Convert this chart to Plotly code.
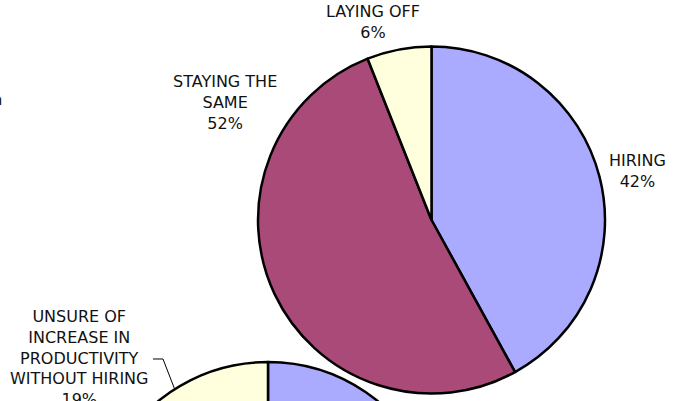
import plotly.graph_objects as go

# Chart data.
labels_now = ['HIRING', 'STAYING THE<br>SAME', 'LAYING OFF']
values_now = [42, 52, 6]

labels_next = ['HIRING', 'NOT HIRING', 'UNSURE OF<br>INCREASE IN<br>PRODUCTIVITY<br>WITHOUT HIRING']
values_next = [38, 43, 19]

colors = ['#AAAAFF', '#AA4A78', '#FFFFDD']

# Canvas size (taller than the window, the second pie runs off the bottom).
W, H = 677, 720


def px(x, y):
    '''Convert pixel coordinates (from top-left) to paper coordinates.'''
    return x / W, (H - y) / H


def pie_domain(cx, cy, r):
    '''Domain for a pie centred at (cx, cy) px with radius r px.'''
    return dict(
        x=[(cx - r) / W, (cx + r) / W],
        y=[(H - cy - r) / H, (H - cy + r) / H],
    )


font = dict(family='DejaVu Sans', size=16, color='#111111')

traces = []

# Current plans.
traces.append(
    go.Pie(
        labels=labels_now,
        values=values_now,
        sort=False,
        direction='clockwise',
        rotation=0,
        textinfo='none',
        hoverinfo='label+percent',
        showlegend=False,
        marker=dict(colors=colors, line=dict(color='#000000', width=2.5)),
        domain=pie_domain(431.5, 220, 173.5),
    )
)

# Next period plans.
traces.append(
    go.Pie(
        labels=labels_next,
        values=values_next,
        sort=False,
        direction='clockwise',
        rotation=0,
        textinfo='none',
        hoverinfo='label+percent',
        showlegend=False,
        marker=dict(colors=colors, line=dict(color='#000000', width=2.5)),
        domain=pie_domain(268, 535.5, 173.5),
    )
)

# Data labels (placed like the original chart).
label_pos_now = [(637, 171), (225, 102), (373, 22)]
annotations = []
for lab, val, (x, y) in zip(labels_now, values_now, label_pos_now):
    ax, ay = px(x, y)
    annotations.append(dict(
        x=ax, y=ay, xref='paper', yref='paper',
        text='%s<br>%d%%' % (lab, val),
        showarrow=False, font=font, align='center',
        xanchor='center', yanchor='middle',
    ))

ax, ay = px(78.5, 358)
annotations.append(dict(
    x=ax, y=ay, xref='paper', yref='paper',
    text='%s<br>%d%%' % (labels_next[2], values_next[2]),
    showarrow=False, font=font, align='center',
    xanchor='center', yanchor='middle',
))

# Clipped text at the left edge.
ax, ay = px(4, 100)
annotations.append(dict(
    x=ax, y=ay, xref='paper', yref='paper',
    text='Hiring expectation',
    showarrow=False, font=font,
    xanchor='right', yanchor='middle',
))

# Leader line for the second pie label.
p1, p2, p3 = px(153, 359), px(163, 359), px(175, 390)
shapes = [dict(
    type='path', xref='paper', yref='paper',
    path='M %f,%f L %f,%f L %f,%f' % (p1 + p2 + p3),
    line=dict(color='#000000', width=1),
)]

layout = dict(
    width=W,
    height=H,
    plot_bgcolor='white',
    paper_bgcolor='white',
    margin=dict(t=0, r=0, b=0, l=0, pad=0),
    font=font,
    annotations=annotations,
    shapes=shapes,
)

fig = go.Figure(data=traces, layout=layout)
fig.write_html(
    'out.html',
    config={'displayModeBar': False},
    post_script="document.body.style.margin='0';"
                "document.body.style.overflow='hidden';"
                "document.documentElement.style.overflow='hidden';",
)
